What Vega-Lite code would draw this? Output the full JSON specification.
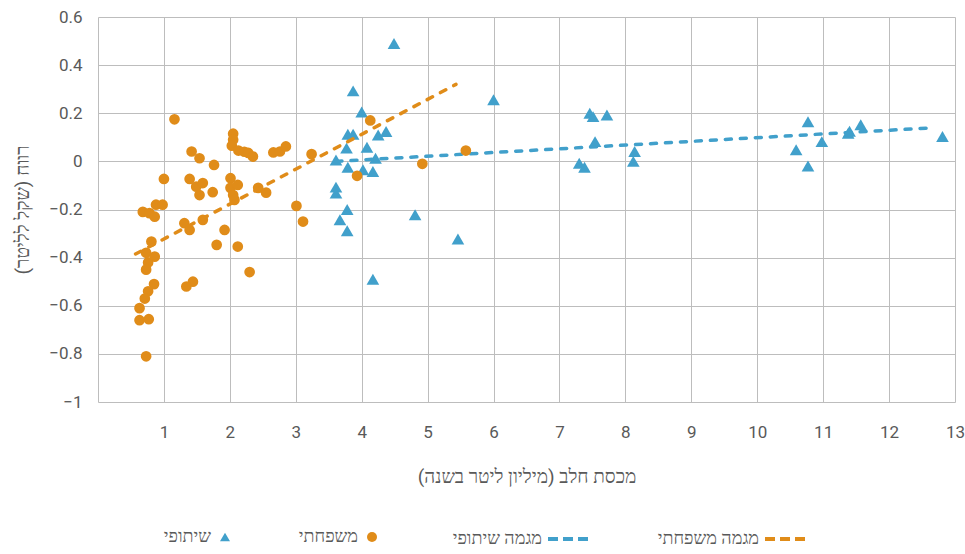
{
  "$schema": "https://vega.github.io/schema/vega-lite/v6.json",
  "width": 857,
  "height": 385,
  "autosize": {"type": "none"},
  "padding": {"left": 98, "top": 17, "right": 10, "bottom": 152},
  "background": "white",
  "config": {
    "font": "Roboto",
    "view": {"stroke": null},
    "axis": {
      "labelColor": "#595959",
      "titleColor": "#595959",
      "labelFontSize": 17,
      "titleFontSize": 19,
      "titleFontWeight": "normal",
      "gridColor": "#BDBDBD",
      "gridOpacity": 1,
      "gridWidth": 1,
      "ticks": false,
      "domainColor": "#BDBDBD",
      "domainWidth": 1
    },
    "legend": {
      "labelColor": "#595959",
      "labelFontSize": 18,
      "labelLimit": 300
    }
  },
  "datasets": {
    "blue": [
      {"x": 4.49, "y": 0.49, "series": "שיתופי"},
      {"x": 3.87, "y": 0.293, "series": "שיתופי"},
      {"x": 4.0, "y": 0.205, "series": "שיתופי"},
      {"x": 3.79, "y": 0.113, "series": "שיתופי"},
      {"x": 3.87, "y": 0.113, "series": "שיתופי"},
      {"x": 4.25, "y": 0.11, "series": "שיתופי"},
      {"x": 4.37, "y": 0.124, "series": "שיתופי"},
      {"x": 3.77, "y": 0.055, "series": "שיתופי"},
      {"x": 4.08, "y": 0.059, "series": "שיתופי"},
      {"x": 4.21, "y": 0.013, "series": "שיתופי"},
      {"x": 3.61, "y": 0.006, "series": "שיתופי"},
      {"x": 3.79, "y": -0.024, "series": "שיתופי"},
      {"x": 4.02, "y": -0.035, "series": "שיתופי"},
      {"x": 4.17, "y": -0.042, "series": "שיתופי"},
      {"x": 3.61, "y": -0.107, "series": "שיתופי"},
      {"x": 3.61, "y": -0.132, "series": "שיתופי"},
      {"x": 3.78, "y": -0.2, "series": "שיתופי"},
      {"x": 3.67, "y": -0.243, "series": "שיתופי"},
      {"x": 3.78, "y": -0.288, "series": "שיתופי"},
      {"x": 4.81, "y": -0.222, "series": "שיתופי"},
      {"x": 4.17, "y": -0.49, "series": "שיתופי"},
      {"x": 5.46, "y": -0.323, "series": "שיתופי"},
      {"x": 6.0, "y": 0.256, "series": "שיתופי"},
      {"x": 7.46, "y": 0.2, "series": "שיתופי"},
      {"x": 7.51, "y": 0.186, "series": "שיתופי"},
      {"x": 7.72, "y": 0.193, "series": "שיתופי"},
      {"x": 7.54, "y": 0.082, "series": "שיתופי"},
      {"x": 7.3, "y": -0.008, "series": "שיתופי"},
      {"x": 7.38, "y": -0.024, "series": "שיתופי"},
      {"x": 8.14, "y": 0.041, "series": "שיתופי"},
      {"x": 8.12, "y": 0.0, "series": "שיתופי"},
      {"x": 10.77, "y": 0.165, "series": "שיתופי"},
      {"x": 10.59, "y": 0.048, "series": "שיתופי"},
      {"x": 10.77, "y": -0.019, "series": "שיתופי"},
      {"x": 10.98, "y": 0.082, "series": "שיתופי"},
      {"x": 11.38, "y": 0.117, "series": "שיתופי"},
      {"x": 11.4, "y": 0.125, "series": "שיתופי"},
      {"x": 11.57, "y": 0.152, "series": "שיתופי"},
      {"x": 12.81, "y": 0.103, "series": "שיתופי"}
    ],
    "orange": [
      {"x": 1.16, "y": 0.175, "series": "משפחתי"},
      {"x": 2.05, "y": 0.115, "series": "משפחתי"},
      {"x": 2.05, "y": 0.09, "series": "משפחתי"},
      {"x": 2.03, "y": 0.065, "series": "משפחתי"},
      {"x": 2.13, "y": 0.045, "series": "משפחתי"},
      {"x": 2.22, "y": 0.04, "series": "משפחתי"},
      {"x": 2.28, "y": 0.035, "series": "משפחתי"},
      {"x": 2.35, "y": 0.02, "series": "משפחתי"},
      {"x": 2.66, "y": 0.037, "series": "משפחתי"},
      {"x": 2.76, "y": 0.041, "series": "משפחתי"},
      {"x": 2.85, "y": 0.062, "series": "משפחתי"},
      {"x": 3.24, "y": 0.03, "series": "משפחתי"},
      {"x": 1.42, "y": 0.041, "series": "משפחתי"},
      {"x": 1.54, "y": 0.013, "series": "משפחתי"},
      {"x": 1.76, "y": -0.015, "series": "משפחתי"},
      {"x": 1.0, "y": -0.073, "series": "משפחתי"},
      {"x": 1.39, "y": -0.073, "series": "משפחתי"},
      {"x": 1.49, "y": -0.105, "series": "משפחתי"},
      {"x": 1.59, "y": -0.09, "series": "משפחתי"},
      {"x": 1.54, "y": -0.14, "series": "משפחתי"},
      {"x": 1.74, "y": -0.128, "series": "משפחתי"},
      {"x": 2.01, "y": -0.07, "series": "משפחתי"},
      {"x": 2.01, "y": -0.11, "series": "משפחתי"},
      {"x": 2.05, "y": -0.14, "series": "משפחתי"},
      {"x": 2.07, "y": -0.16, "series": "משפחתי"},
      {"x": 2.12, "y": -0.098, "series": "משפחתי"},
      {"x": 2.43, "y": -0.11, "series": "משפחתי"},
      {"x": 2.55, "y": -0.13, "series": "משפחתי"},
      {"x": 3.01, "y": -0.185, "series": "משפחתי"},
      {"x": 3.11, "y": -0.25, "series": "משפחתי"},
      {"x": 0.68, "y": -0.21, "series": "משפחתי"},
      {"x": 0.78, "y": -0.215, "series": "משפחתי"},
      {"x": 0.88, "y": -0.18, "series": "משפחתי"},
      {"x": 0.98, "y": -0.18, "series": "משפחתי"},
      {"x": 0.86, "y": -0.23, "series": "משפחתי"},
      {"x": 1.92, "y": -0.285, "series": "משפחתי"},
      {"x": 1.31, "y": -0.257, "series": "משפחתי"},
      {"x": 1.39, "y": -0.285, "series": "משפחתי"},
      {"x": 1.59, "y": -0.243, "series": "משפחתי"},
      {"x": 0.81, "y": -0.333, "series": "משפחתי"},
      {"x": 1.8, "y": -0.347, "series": "משפחתי"},
      {"x": 2.12, "y": -0.354, "series": "משפחתי"},
      {"x": 2.3, "y": -0.46, "series": "משפחתי"},
      {"x": 0.73, "y": -0.38, "series": "משפחתי"},
      {"x": 0.86, "y": -0.396, "series": "משפחתי"},
      {"x": 0.76, "y": -0.42, "series": "משפחתי"},
      {"x": 0.73, "y": -0.45, "series": "משפחתי"},
      {"x": 1.44, "y": -0.5, "series": "משפחתי"},
      {"x": 1.34, "y": -0.52, "series": "משפחתי"},
      {"x": 0.85, "y": -0.51, "series": "משפחתי"},
      {"x": 0.76, "y": -0.54, "series": "משפחתי"},
      {"x": 0.71, "y": -0.57, "series": "משפחתי"},
      {"x": 0.63, "y": -0.61, "series": "משפחתי"},
      {"x": 0.63, "y": -0.66, "series": "משפחתי"},
      {"x": 0.77, "y": -0.656, "series": "משפחתי"},
      {"x": 0.73, "y": -0.81, "series": "משפחתי"},
      {"x": 4.13, "y": 0.17, "series": "משפחתי"},
      {"x": 3.93, "y": -0.06, "series": "משפחתי"},
      {"x": 4.92, "y": -0.01, "series": "משפחתי"},
      {"x": 5.58, "y": 0.045, "series": "משפחתי"}
    ],
    "blueTrend": [
      {"x": 3.61, "y": 0.0, "series": "מגמה שיתופי"},
      {"x": 12.68, "y": 0.14, "series": "מגמה שיתופי"}
    ],
    "orangeTrend": [
      {"x": 0.57, "y": -0.385, "series": "מגמה משפחתי"},
      {"x": 5.43, "y": 0.32, "series": "מגמה משפחתי"}
    ]
  },
  "encoding": {
    "x": {
      "field": "x",
      "type": "quantitative",
      "scale": {"domain": [0, 13], "nice": false, "zero": false},
      "axis": {
        "title": "מכסת חלב (מיליון ליטר בשנה)‏",
        "values": [1, 2, 3, 4, 5, 6, 7, 8, 9, 10, 11, 12, 13],
        "domain": false,
        "labelPadding": 22,
        "titlePadding": 27,
        "labelFlush": false
      }
    },
    "y": {
      "field": "y",
      "type": "quantitative",
      "scale": {"domain": [-1, 0.6], "nice": false, "zero": false},
      "axis": {
        "title": "רווח (שקל לליטר)‏",
        "values": [-1, -0.8, -0.6, -0.4, -0.2, 0, 0.2, 0.4, 0.6],
        "format": ".1~f",
        "domain": true,
        "labelPadding": 16,
        "titlePadding": 16
      }
    }
  },
  "layer": [
    {
      "data": {"name": "blue"},
      "mark": {"type": "point", "filled": true, "size": 160, "opacity": 1},
      "encoding": {
        "fill": {
          "field": "series",
          "type": "nominal",
          "scale": {"domain": ["שיתופי", "משפחתי"], "range": ["#41A0CB", "#E08C19"]},
          "legend": {"orient": "none", "legendX": 118, "legendY": 511, "direction": "horizontal", "title": null, "padding": 0, "columnPadding": 68, "labelAlign": "right", "labelOffset": -23, "symbolSize": 100, "symbolStrokeWidth": 0}
        },
        "shape": {
          "field": "series",
          "type": "nominal",
          "scale": {"domain": ["שיתופי", "משפחתי"], "range": ["triangle-up", "circle"]},
          "legend": {"orient": "none", "legendX": 118, "legendY": 511, "direction": "horizontal", "title": null, "padding": 0, "columnPadding": 68, "labelAlign": "right", "labelOffset": -23, "symbolSize": 100, "symbolStrokeWidth": 0}
        }
      }
    },
    {
      "data": {"name": "blueTrend"},
      "mark": {"type": "line", "strokeDash": [6, 9], "strokeWidth": 3.5, "strokeCap": "round"},
      "encoding": {
        "stroke": {
          "field": "series",
          "type": "nominal",
          "scale": {"domain": ["מגמה שיתופי", "מגמה משפחתי"], "range": ["#41A0CB", "#E08C19"]},
          "legend": {"orient": "none", "legendX": 448, "legendY": 500, "direction": "horizontal", "title": null, "padding": 0, "columnPadding": 61, "labelAlign": "right", "labelOffset": -48, "symbolType": "stroke", "symbolSize": 1600, "symbolStrokeWidth": 4, "symbolDash": [10, 5]}
        }
      }
    },
    {
      "data": {"name": "orange"},
      "mark": {"type": "point", "filled": true, "size": 115, "opacity": 1},
      "encoding": {
        "fill": {"field": "series", "type": "nominal"},
        "shape": {"field": "series", "type": "nominal"}
      }
    },
    {
      "data": {"name": "orangeTrend"},
      "mark": {"type": "line", "strokeDash": [6, 9], "strokeWidth": 3.5, "strokeCap": "round"},
      "encoding": {
        "stroke": {"field": "series", "type": "nominal"}
      }
    }
  ]
}
